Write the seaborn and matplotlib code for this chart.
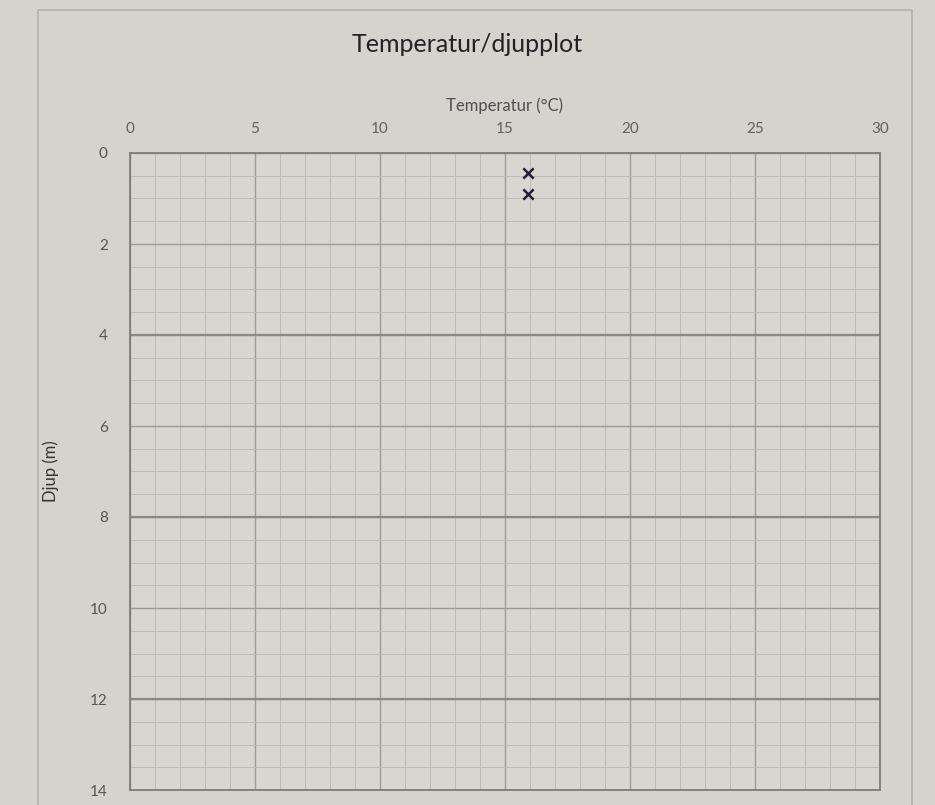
import numpy as np
import pandas as pd
import matplotlib.pyplot as plt
import seaborn as sns
from matplotlib.ticker import MultipleLocator
from matplotlib.patches import Rectangle

# Data: handwritten marks
temperatur = [15.9, 15.9]
djup = [0.45, 0.9]

x_ticks = [0, 5, 10, 15, 20, 25, 30]
y_ticks = [0, 2, 4, 6, 8, 10, 12, 14]
thick_y = [4, 8, 12]

df = pd.DataFrame({'Temperatur': temperatur, 'Djup': djup})

sns.set_theme(style='whitegrid')
plt.rcParams['font.family'] = ['Lato', 'DejaVu Sans']

paper = '#d5d3ce'
fig = plt.figure(figsize=(9.35, 8.05), dpi=100, facecolor=paper)
ax = fig.add_axes([130 / 935, 1 - 790 / 805, 750 / 935, 637 / 805])
ax.set_facecolor('#d8d6d1')

# Paper border
fig.patches.append(Rectangle((38 / 935, -0.01), (912 - 38) / 935, 1 - 10 / 805 + 0.01,
                             transform=fig.transFigure, fill=False,
                             edgecolor='#b3b1ac', linewidth=1.2))

sns.scatterplot(data=df, x='Temperatur', y='Djup', marker='x', s=55,
                color='#1f2233', linewidth=1.8, ax=ax, zorder=5)

ax.set_xlim(0, 30)
ax.set_ylim(14, 0)
ax.xaxis.set_ticks_position('top')
ax.xaxis.set_label_position('top')
ax.set_xticks(x_ticks)
ax.set_yticks(y_ticks)
ax.xaxis.set_minor_locator(MultipleLocator(1))
ax.yaxis.set_minor_locator(MultipleLocator(0.5))

ax.grid(which='major', color='#9d9c98', linewidth=1.0)
ax.grid(which='minor', color='#bdbbb6', linewidth=0.7)
for yv in thick_y:
    ax.axhline(yv, color='#8a8985', linewidth=1.6, zorder=1)

ax.tick_params(axis='x', which='major', length=0, pad=12, labelsize=11, labelcolor='#606060')
ax.tick_params(axis='y', which='major', length=0, pad=16, labelsize=11, labelcolor='#555555')
ax.tick_params(which='minor', length=0)

for s in ax.spines.values():
    s.set_color('#7d7c78')
    s.set_linewidth(1.3)

ax.set_xlabel('Temperatur (°C)', fontsize=12, color='#505050', labelpad=8)
ax.set_ylabel('Djup (m)', fontsize=12, color='#333333', labelpad=22)

fig.text(0.5, 1 - 45 / 805, 'Temperatur/djupplot', ha='center', va='center',
         fontsize=18, color='#222222')

fig.savefig('out.png', dpi=100, facecolor=paper)
